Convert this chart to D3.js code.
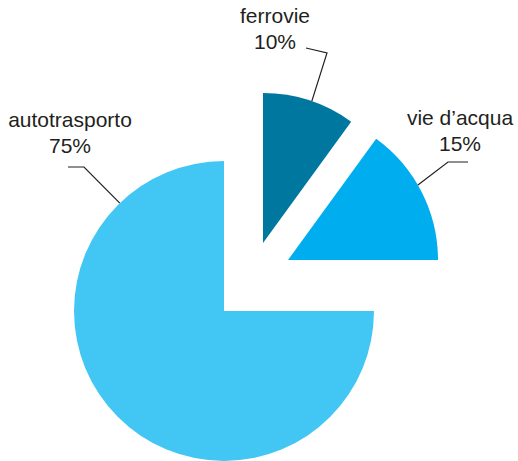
<!DOCTYPE html>
<html>
<head>
<meta charset="utf-8">
<script src="https://cdn.jsdelivr.net/npm/d3@7"></script>
<style>
  body { margin: 0; background: #fff; }
  text { font-family: "Liberation Sans", Arial, sans-serif; font-size: 21px; fill: #231f20; }
</style>
</head>
<body>
<div class="chart"></div>
<script>
// data
var categories = ["ferrovie", "vie d\u2019acqua", "autotrasporto"];
var values = [10, 15, 75];
var valueLabels = ["10%", "15%", "75%"];

var colors = ["#00779f", "#00adee", "#42c6f3"];

var width = 518, height = 461;
var radius = 150;
var cx = 224, cy = 311;

// how far each slice is pulled out of the pie
var explode = [[39, -68], [64, -51], [0, 0]];
// where the leader line meets the arc (degrees, clockwise from 12 o'clock)
var leaderAngle = [19, 60, 316];
// label text centre, elbow and end of the leader line
var labelPos = [[275, 23], [460, 125], [70, 127]];
var elbow = [[327, 53], [448, 162], [84, 167]];
var lineEnd = [[306, 48], [468, 162], [68, 167]];

var data = categories.map(function (c, i) {
    return { name: c, value: values[i], label: valueLabels[i], i: i };
});

var svg = d3.select(".chart")
    .append("svg")
    .attr("width", width)
    .attr("height", height);

var pie = d3.pie()
    .sort(null)
    .value(function (d) { return d.value; });

var arc = d3.arc()
    .innerRadius(0)
    .outerRadius(radius);

var arcs = pie(data);

svg.selectAll("path.slice")
    .data(arcs)
    .enter()
    .append("path")
    .attr("class", "slice")
    .attr("transform", function (d) {
        var o = explode[d.data.i];
        return "translate(" + (cx + o[0]) + "," + (cy + o[1]) + ")";
    })
    .attr("d", arc)
    .attr("fill", function (d) { return colors[d.data.i]; });

// leader lines
svg.selectAll("polyline.leader")
    .data(arcs)
    .enter()
    .append("polyline")
    .attr("class", "leader")
    .attr("fill", "none")
    .attr("stroke", "#231f20")
    .attr("stroke-width", 1.2)
    .attr("points", function (d) {
        var i = d.data.i;
        var a = leaderAngle[i] * Math.PI / 180;
        var sx = cx + explode[i][0] + radius * Math.sin(a);
        var sy = cy + explode[i][1] - radius * Math.cos(a);
        return [[sx, sy], elbow[i], lineEnd[i]].map(function (p) { return p.join(","); }).join(" ");
    });

// labels
var labels = svg.selectAll("text.label")
    .data(arcs)
    .enter()
    .append("text")
    .attr("class", "label")
    .attr("text-anchor", "middle")
    .attr("x", function (d) { return labelPos[d.data.i][0]; })
    .attr("y", function (d) { return labelPos[d.data.i][1]; });

labels.append("tspan")
    .attr("x", function (d) { return labelPos[d.data.i][0]; })
    .text(function (d) { return d.data.name; });

labels.append("tspan")
    .attr("x", function (d) { return labelPos[d.data.i][0]; })
    .attr("dy", 26)
    .text(function (d) { return d.data.label; });
</script>
</body>
</html>
